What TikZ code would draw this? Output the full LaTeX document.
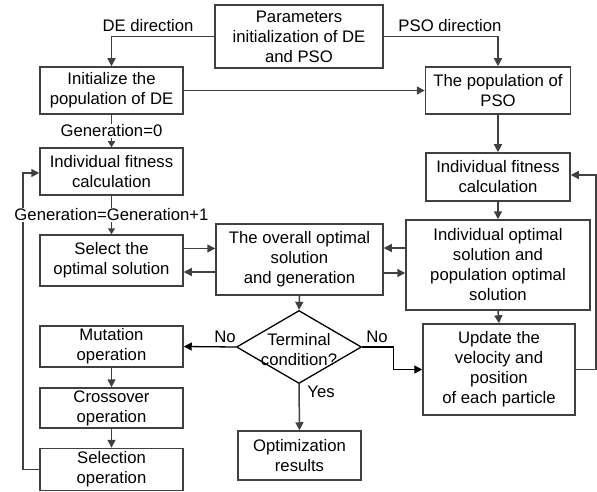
\documentclass[tikz,border=0pt]{standalone}
\usepackage{fontspec}
\setmainfont{Liberation Sans}
\usetikzlibrary{arrows.meta,shapes.geometric,calc}
\definecolor{ln}{HTML}{404040}
\begin{document}
\begin{tikzpicture}[x=1pt,y=-1pt,
  font=\fontsize{16.7}{20}\selectfont,
  box/.style={draw=ln,line width=1.5pt,inner sep=0pt,align=center,rectangle},
  arr/.style={draw=ln,line width=1.5pt,-{Triangle[length=8pt,width=8pt]}},
  sarr/.style={draw=ln,line width=1.5pt,-{Triangle[length=6pt,width=7pt]}},
  barr/.style={draw=black,line width=1.3pt,-{Triangle[length=8pt,width=8pt]}},
  lbl/.style={inner sep=1pt,fill=white}]
\useasboundingbox (0,0) rectangle (597,492);

% nodes
\node[box,minimum width=168pt,minimum height=63pt] (par) at (299,36.5) {Parameters\\initialization of DE\\and PSO};
\node[box,minimum width=143pt,minimum height=47pt] (ide) at (111.5,90.5) {Initialize the\\population of DE};
\node[box,minimum width=145pt,minimum height=47pt] (pso) at (498,90.5) {The population of\\PSO};
\node[box,minimum width=143pt,minimum height=47pt] (ifl) at (111.5,171.5) {Individual fitness\\calculation};
\node[box,minimum width=143pt,minimum height=51pt] (sel) at (111.5,260.5) {Select the\\optimal solution};
\node[box,minimum width=167pt,minimum height=71pt] (ovr) at (299.5,259.5) {The overall optimal\\solution\\and generation};
\node[box,minimum width=144pt,minimum height=48pt] (ifr) at (498,177) {Individual fitness\\calculation};
\node[box,minimum width=184pt,minimum height=90pt] (iop) at (498,265) {Individual optimal\\solution and\\population optimal\\solution};
\node[draw=black,line width=1.3pt,shape=diamond,inner sep=0pt,minimum width=125pt,minimum height=73pt] (dia) at (299,347) {};
\node[align=center,inner sep=0pt] (diat) at (299,350) {Terminal\\condition?};
\node[box,minimum width=152pt,minimum height=91pt] (upd) at (499,369.5) {Update the\\velocity and\\position\\of each particle};
\node[box,minimum width=143pt,minimum height=41pt] (mut) at (111.5,346.5) {Mutation\\operation};
\node[box,minimum width=143pt,minimum height=40pt] (crs) at (111.5,408) {Crossover\\operation};
\node[box,minimum width=143pt,minimum height=42pt] (slc) at (111.5,469.5) {Selection\\operation};
\node[box,minimum width=123pt,minimum height=49pt] (opt) at (299.5,455.5) {Optimization\\results};

\coordinate (rc) at (596,0);
\coordinate (lc) at (23,0);

% labels
\node[inner sep=0pt] (lde) at (148,26) {DE direction};
\node[inner sep=0pt] (lpso) at (450,26) {PSO direction};
\node[inner sep=0pt] (lno1) at (225,337) {No};
\node[inner sep=0pt] (lno2) at (377,337) {No};
\node[inner sep=0pt] (lyes) at (321,392) {Yes};

% connectors
\draw[arr] (slc.west) -- (slc.west -| lc) |- ([yshift=-1.5pt]ifl.west);
\draw[arr] (par.west) -| (ide.north);
\draw[arr] (par.east) -| (pso.north);
\draw[arr] (ide.east) -- (pso.west);
\draw[sarr] (ide.south) -- node[lbl] {Generation=0} (ifl.north);
\draw[sarr] (ifl.south) -- node[lbl] {Generation=Generation+1} (sel.north);
\draw[arr] ([yshift=12pt]sel.east) -- ([yshift=12pt]sel.east -| ovr.west);
\draw[arr] ([yshift=-11.5pt]sel.east -| ovr.west) -- ([yshift=-11.5pt]sel.east);
\draw[arr] ([yshift=11.5pt]ovr.east -| iop.west) -- ([yshift=11.5pt]ovr.east);
\draw[arr] ([yshift=-13.5pt]ovr.east) -- ([yshift=-13.5pt]ovr.east -| iop.west);
\draw[arr] (ovr.south) -- (dia.north);
\draw[barr] (dia.west) -- (mut.east);
\draw[barr] (dia.east) -- ++(31,0) |- (upd.west);
\draw[arr] (dia.south) -- (opt.north);
\draw[arr] (pso.south) -- (ifr.north);
\draw[arr] (ifr.south) -- (iop.north);
\draw[arr] (iop.south) -- (upd.north);
\draw[arr] (upd.east) -- (upd.east -| rc) |- ([yshift=2pt]ifr.east);
\draw[arr] (mut.south) -- (crs.north);
\draw[arr] (crs.south) -- (slc.north);
\end{tikzpicture}
\end{document}
